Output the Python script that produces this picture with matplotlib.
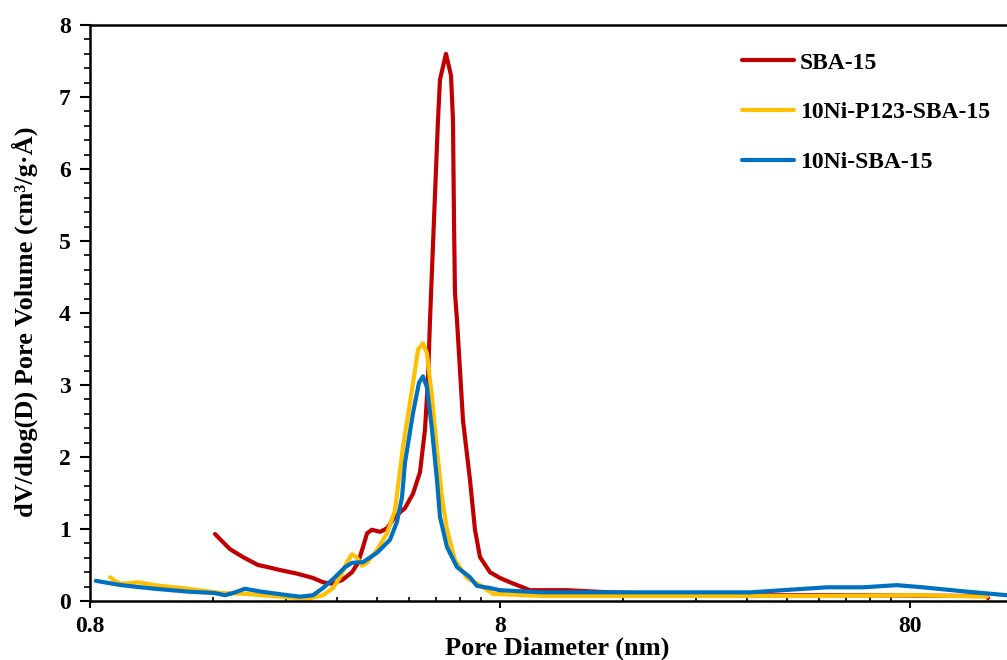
import numpy as np
import matplotlib
matplotlib.use("Agg")
import matplotlib.pyplot as plt
from matplotlib.ticker import FixedLocator, MultipleLocator, NullFormatter

# pore size distributions, pore diameter in nm vs dV/dlog(D)
sba_d = [1.614, 1.756, 1.889, 2.055, 2.174, 2.326, 2.559, 2.799, 2.961, 3.115,
         3.295, 3.485, 3.604, 3.707, 3.791, 3.899, 4.078, 4.241, 4.436, 4.692,
         4.908, 5.105, 5.250, 5.339, 5.400, 5.461, 5.522, 5.648, 5.711, 5.907,
         6.076, 6.144, 6.179, 6.213, 6.284, 6.390, 6.499, 6.760, 6.952, 7.150,
         7.563, 8.0, 8.462, 9.468, 11.655, 14.838, 19.650, 32.578, 61.44, 110.2,
         123.3, 124.0]
sba_v = [0.93, 0.72, 0.61, 0.50, 0.47, 0.43, 0.38, 0.32, 0.26, 0.24,
         0.29, 0.40, 0.53, 0.75, 0.94, 0.99, 0.96, 1.01, 1.17, 1.29,
         1.49, 1.79, 2.38, 3.07, 3.90, 4.60, 5.29, 6.68, 7.24, 7.60,
         7.30, 6.68, 5.29, 4.28, 3.90, 3.21, 2.51, 1.68, 0.99, 0.61,
         0.40, 0.32, 0.26, 0.15, 0.15, 0.12, 0.10, 0.08, 0.08, 0.07,
         0.07, 0.04]

p123_d = [0.895, 0.920, 0.952, 1.007, 1.048, 1.152, 1.387, 1.670, 1.910, 2.211,
          2.707, 2.961, 3.132, 3.258, 3.388, 3.485, 3.584, 3.686, 3.791, 4.010,
          4.241, 4.436, 4.640, 4.880, 5.048, 5.191, 5.309, 5.461, 5.616, 5.776,
          5.940, 6.213, 6.647, 7.150, 7.691, 10.185, 19.650, 47.46, 83.2, 123.3]
p123_v = [0.33, 0.28, 0.24, 0.25, 0.26, 0.22, 0.17, 0.11, 0.10, 0.07,
          0.03, 0.08, 0.18, 0.33, 0.54, 0.65, 0.60, 0.49, 0.53, 0.71,
          0.94, 1.26, 2.14, 2.93, 3.49, 3.58, 3.44, 2.83, 2.10, 1.44,
          0.99, 0.57, 0.32, 0.22, 0.10, 0.07, 0.07, 0.07, 0.08, 0.06]

ni_d = [0.827, 0.952, 1.152, 1.387, 1.614, 1.708, 1.806, 1.910, 2.090, 2.433,
        2.602, 2.799, 2.961, 3.168, 3.351, 3.485, 3.707, 4.010, 4.313, 4.486,
        4.614, 4.692, 4.908, 5.076, 5.191, 5.309, 5.461, 5.616, 5.711, 5.940,
        6.284, 6.760, 7.030, 7.563, 8.0, 10.185, 19.650, 32.578, 39.205, 50.2,
        61.44, 74.37, 86.06, 110.2, 138.0]
ni_v = [0.28, 0.22, 0.17, 0.13, 0.11, 0.08, 0.12, 0.17, 0.13, 0.08,
        0.06, 0.08, 0.18, 0.33, 0.47, 0.53, 0.54, 0.67, 0.85, 1.10,
        1.44, 1.92, 2.61, 3.03, 3.12, 2.97, 2.38, 1.68, 1.17, 0.75,
        0.47, 0.33, 0.21, 0.18, 0.15, 0.12, 0.12, 0.12, 0.15, 0.19,
        0.19, 0.22, 0.19, 0.13, 0.08]

labels = ["SBA-15", "10Ni-P123-SBA-15", "10Ni-SBA-15"]
colors = ["#C00000", "#FFC000", "#0070C0"]

plt.rcParams["font.family"] = ["Liberation Serif", "DejaVu Serif"]
plt.rcParams["font.weight"] = "bold"

fig = plt.figure(figsize=(10.07, 6.6), dpi=100)
ax = fig.add_axes([0.0894, 0.0894, 0.9106, 0.8727])

for d, v, lab, c in zip([sba_d, p123_d, ni_d], [sba_v, p123_v, ni_v], labels, colors):
    ax.plot(d, v, color=c, lw=3.0, label=lab, solid_joinstyle="round",
            solid_capstyle="round")

ax.set_xscale("log")
ax.set_xlim(0.8, 138)
ax.set_ylim(0, 8)

ax.xaxis.set_major_locator(FixedLocator([0.8, 8, 80]))
ax.xaxis.set_minor_locator(FixedLocator(
    [0.8 * k * 10 ** n for n in range(3) for k in range(2, 10)]))
ax.xaxis.set_minor_formatter(NullFormatter())
ax.set_xticklabels(["0.8", "8", "80"])
ax.yaxis.set_major_locator(MultipleLocator(1))
ax.yaxis.set_minor_locator(MultipleLocator(0.2))

ax.tick_params(axis="x", which="major", direction="out", length=5, width=1.5,
               labelsize=17, pad=6)
ax.tick_params(axis="x", which="minor", direction="in", length=3, width=1.2)
ax.tick_params(axis="y", which="major", direction="out", length=7, width=1.5,
               labelsize=17, pad=7)
ax.tick_params(axis="y", which="minor", direction="out", length=4, width=1.2)

for s in ["left", "bottom", "top"]:
    ax.spines[s].set_linewidth(1.8)
ax.spines["right"].set_visible(False)

ax.set_xlabel("Pore Diameter (nm)", fontsize=19, fontweight="bold")
ax.xaxis.set_label_coords(0.510, -0.062)
ax.set_ylabel("dV/dlog(D) Pore Volume (cm³/g·Å)", fontsize=19,
              fontweight="bold")
ax.yaxis.set_label_coords(-0.057, 0.484)

ax.legend(loc="upper left", bbox_to_anchor=(0.725, 0.939),
          bbox_transform=fig.transFigure, frameon=False, fontsize=17,
          borderpad=0, handlelength=2.2, handletextpad=0.25,
          labelspacing=1.19)

fig.savefig("out.png", dpi=100)
